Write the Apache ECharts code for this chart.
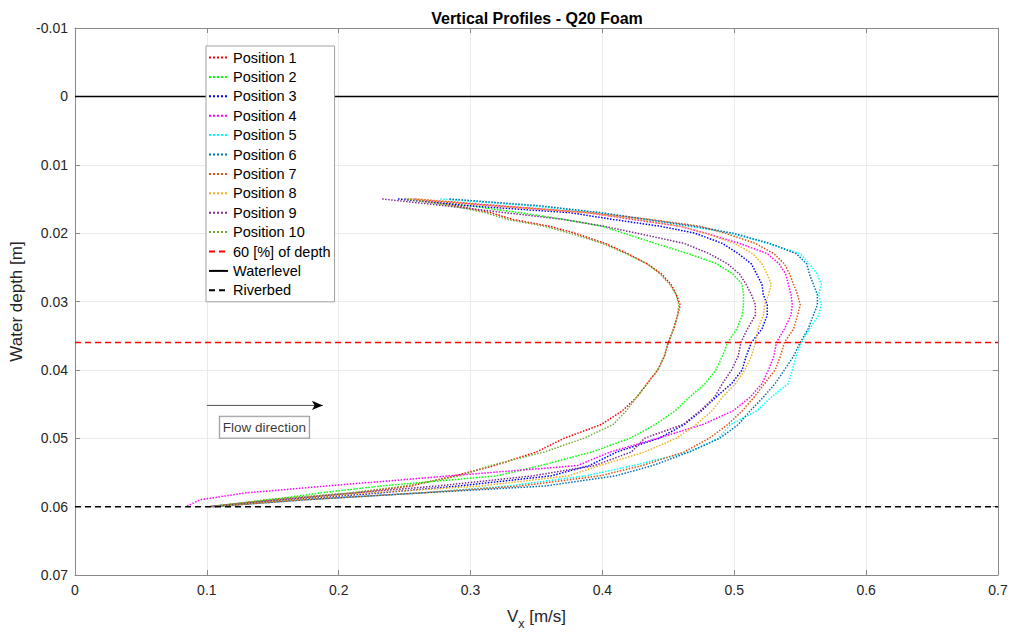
<!DOCTYPE html>
<html>
<head>
<meta charset="utf-8">
<title>Vertical Profiles - Q20 Foam</title>
<script src="https://cdn.jsdelivr.net/npm/echarts@6/dist/echarts.min.js"></script>
<style>
  html, body { margin: 0; padding: 0; background: #fff; }
  #chart { width: 1015px; height: 635px; }
</style>
</head>
<body>
<div id="chart"></div>
<script>
// Depth levels (m) shared by every velocity profile
const depth = [0.015, 0.016, 0.017, 0.018, 0.019, 0.020, 0.0215, 0.023, 0.0245, 0.026,
               0.0275, 0.029, 0.0305, 0.032, 0.034, 0.036, 0.038, 0.040, 0.042, 0.044,
               0.046, 0.048, 0.050, 0.052, 0.054, 0.0555, 0.057, 0.058, 0.059, 0.060];

// Streamwise velocity Vx (m/s) at each depth level, one array per position
const vPos1  = [0.254,0.290,0.315,0.332,0.360,0.379,0.402,0.419,0.434,0.445,0.452,0.456,0.459,0.457,0.454,0.450,0.447,0.442,0.434,0.426,0.415,0.399,0.371,0.350,0.318,0.288,0.254,0.212,0.148,0.102];
const vPos2  = [0.250,0.299,0.337,0.371,0.400,0.416,0.440,0.465,0.487,0.499,0.506,0.507,0.507,0.506,0.502,0.495,0.491,0.486,0.478,0.466,0.455,0.440,0.421,0.392,0.353,0.320,0.231,0.186,0.148,0.102];
const vPos3  = [0.245,0.299,0.375,0.408,0.444,0.470,0.491,0.503,0.513,0.517,0.521,0.522,0.525,0.525,0.521,0.513,0.509,0.506,0.498,0.486,0.475,0.462,0.443,0.411,0.390,0.361,0.290,0.231,0.163,0.104];
const vPos4  = [0.250,0.318,0.388,0.423,0.459,0.478,0.504,0.525,0.534,0.539,0.541,0.543,0.544,0.543,0.538,0.532,0.530,0.526,0.521,0.512,0.499,0.476,0.442,0.406,0.381,0.284,0.190,0.129,0.095,0.084];
const vPos5  = [0.277,0.345,0.398,0.432,0.466,0.497,0.525,0.550,0.557,0.563,0.566,0.564,0.566,0.564,0.557,0.551,0.547,0.544,0.541,0.528,0.517,0.497,0.488,0.466,0.423,0.387,0.328,0.262,0.174,0.104];
const vPos6  = [0.284,0.353,0.398,0.434,0.470,0.499,0.527,0.547,0.555,0.557,0.560,0.563,0.563,0.560,0.556,0.550,0.545,0.538,0.531,0.522,0.512,0.503,0.489,0.466,0.438,0.410,0.356,0.262,0.174,0.104];
const vPos7  = [0.258,0.322,0.390,0.436,0.474,0.493,0.516,0.530,0.538,0.542,0.545,0.548,0.550,0.548,0.545,0.538,0.535,0.531,0.523,0.515,0.506,0.495,0.481,0.462,0.430,0.398,0.337,0.262,0.174,0.104];
const vPos8  = [0.254,0.315,0.388,0.425,0.459,0.478,0.500,0.514,0.521,0.525,0.528,0.526,0.523,0.522,0.518,0.516,0.513,0.508,0.501,0.491,0.483,0.471,0.456,0.432,0.398,0.374,0.307,0.224,0.163,0.104];
const vPos9  = [0.233,0.281,0.326,0.371,0.401,0.426,0.462,0.481,0.495,0.504,0.509,0.513,0.516,0.516,0.510,0.505,0.503,0.498,0.491,0.485,0.474,0.461,0.432,0.422,0.394,0.347,0.274,0.212,0.155,0.102];
const vPos10 = [0.250,0.286,0.311,0.328,0.356,0.375,0.400,0.418,0.434,0.444,0.451,0.456,0.458,0.457,0.454,0.450,0.447,0.442,0.434,0.426,0.418,0.408,0.386,0.356,0.315,0.292,0.250,0.208,0.144,0.106];

const profileNames = ['Position 1','Position 2','Position 3','Position 4','Position 5',
                      'Position 6','Position 7','Position 8','Position 9','Position 10'];
const profileColors = ['#ff0000','#00ff00','#0000ff','#ff00ff','#00ffff',
                       '#0072bd','#d95319','#edb120','#7e2f8e','#77ac30'];
const profiles = [vPos1, vPos2, vPos3, vPos4, vPos5, vPos6, vPos7, vPos8, vPos9, vPos10];

// Horizontal reference levels (m)
const waterLevel = 0;
const riverbedLevel = 0.06;
const sixtyPercentLevel = 0.036;

// Axis ranges and ticks
const xRange = [0, 0.7];
const yRange = [-0.01, 0.07];
const xStep = 0.1;
const yStep = 0.01;

// Flow direction annotation (data units)
const arrowStart = [0.1, 0.0452];
const arrowEnd = [0.188, 0.0452];
const flowLabelAt = [0.1437, 0.0484];

const FONT = '"Liberation Sans", Arial, Helvetica, sans-serif';
const AXIS_GREY = '#8a8a8a';
const TEXT_DARK = '#262626';

const chart = echarts.init(document.getElementById('chart'), null, { renderer: 'svg' });

const profileSeries = profiles.map((v, i) => ({
  name: profileNames[i],
  type: 'line',
  data: depth.map((d, k) => [v[k], d]),
  symbol: 'none',
  showSymbol: false,
  color: profileColors[i],
  lineStyle: { color: profileColors[i], width: 1.5, type: 'dotted' },
  z: 3
}));

function levelSeries(name, level, color, type) {
  return {
    name: name,
    type: 'line',
    data: [[xRange[0], level], [xRange[1], level]],
    symbol: 'none',
    showSymbol: false,
    color: color,
    lineStyle: { color: color, width: 1.5, type: type },
    z: 4
  };
}

const labelFmt = v => String(Math.round(v * 100) / 100);

const option = {
  animation: false,
  backgroundColor: '#ffffff',
  title: {
    text: 'Vertical Profiles - Q20 Foam',
    left: 532,
    textAlign: 'center',
    top: 5,
    textStyle: { fontFamily: FONT, fontSize: 16, fontWeight: 'bold', color: '#000' }
  },
  grid: { left: 75, right: 17, top: 28, bottom: 54, containLabel: false },
  legend: {
    data: profileNames.concat(['60 [%] of depth', 'Waterlevel', 'Riverbed']),
    orient: 'vertical',
    left: 206,
    top: 46,
    itemWidth: 19,
    itemHeight: 14,
    itemGap: 4.4,
    padding: [4, 4, 4, 2],
    borderColor: '#a0a0a0',
    borderWidth: 1,
    backgroundColor: '#ffffff',
    itemStyle: { opacity: 0 },
    textStyle: { fontFamily: FONT, fontSize: 14.5, color: '#000' },
    z: 10
  },
  xAxis: [{
    type: 'value',
    min: xRange[0], max: xRange[1], interval: xStep,
    name: 'V{sub|x} [m/s]',
    nameLocation: 'middle',
    nameGap: 27,
    nameTextStyle: {
      fontFamily: FONT, fontSize: 17, color: TEXT_DARK,
      rich: { sub: { fontFamily: FONT, fontSize: 12.5, color: TEXT_DARK, padding: [15, 0, 0, 0] } }
    },
    axisLine: { show: true, onZero: false, lineStyle: { color: AXIS_GREY, width: 1 } },
    axisTick: { show: true, inside: true, length: 5, lineStyle: { color: AXIS_GREY } },
    axisLabel: { fontFamily: FONT, fontSize: 14, color: TEXT_DARK, margin: 8, formatter: labelFmt },
    splitLine: { show: true, lineStyle: { color: '#ebebeb', width: 1 } }
  }, {
    type: 'value',
    position: 'top',
    min: xRange[0], max: xRange[1], interval: xStep,
    axisLine: { show: true, onZero: false, lineStyle: { color: AXIS_GREY, width: 1 } },
    axisTick: { show: true, inside: true, length: 5, lineStyle: { color: AXIS_GREY } },
    axisLabel: { show: false },
    splitLine: { show: false }
  }],
  yAxis: [{
    type: 'value',
    inverse: true,
    min: yRange[0], max: yRange[1], interval: yStep,
    name: 'Water depth [m]',
    nameLocation: 'middle',
    nameGap: 45,
    nameRotate: 90,
    nameTextStyle: { fontFamily: FONT, fontSize: 17, color: TEXT_DARK },
    axisLine: { show: true, onZero: false, lineStyle: { color: AXIS_GREY, width: 1 } },
    axisTick: { show: true, inside: true, length: 5, lineStyle: { color: AXIS_GREY } },
    axisLabel: { fontFamily: FONT, fontSize: 14, color: TEXT_DARK, margin: 7, formatter: labelFmt },
    splitLine: { show: true, lineStyle: { color: '#ebebeb', width: 1 } }
  }, {
    type: 'value',
    inverse: true,
    position: 'right',
    min: yRange[0], max: yRange[1], interval: yStep,
    axisLine: { show: true, onZero: false, lineStyle: { color: AXIS_GREY, width: 1 } },
    axisTick: { show: true, inside: true, length: 5, lineStyle: { color: AXIS_GREY } },
    axisLabel: { show: false },
    splitLine: { show: false }
  }],
  series: profileSeries.concat([
    levelSeries('60 [%] of depth', sixtyPercentLevel, '#ff0000', [6, 4]),
    levelSeries('Waterlevel', waterLevel, '#000000', 'solid'),
    levelSeries('Riverbed', riverbedLevel, '#000000', [6, 4]),
    {
      name: 'flow-arrow',
      type: 'line',
      data: [
        { value: arrowStart, symbol: 'none' },
        { value: arrowEnd, symbol: 'arrow', symbolSize: [7, 11], symbolRotate: -90,
          itemStyle: { color: '#000' } }
      ],
      showSymbol: true,
      lineStyle: { color: '#555', width: 1, type: 'solid' },
      itemStyle: { color: '#000' },
      z: 6,
      silent: true
    },
    {
      name: 'flow-label',
      type: 'scatter',
      data: [flowLabelAt],
      symbolSize: 0,
      silent: true,
      z: 6,
      label: {
        show: true,
        position: 'inside',
        formatter: 'Flow direction',
        fontFamily: FONT,
        fontSize: 13.5,
        color: '#000',
        backgroundColor: '#ffffff',
        borderColor: '#808080',
        borderWidth: 1,
        padding: [4, 3, 3, 3]
      }
    }
  ])
};

chart.setOption(option);
</script>
</body>
</html>
